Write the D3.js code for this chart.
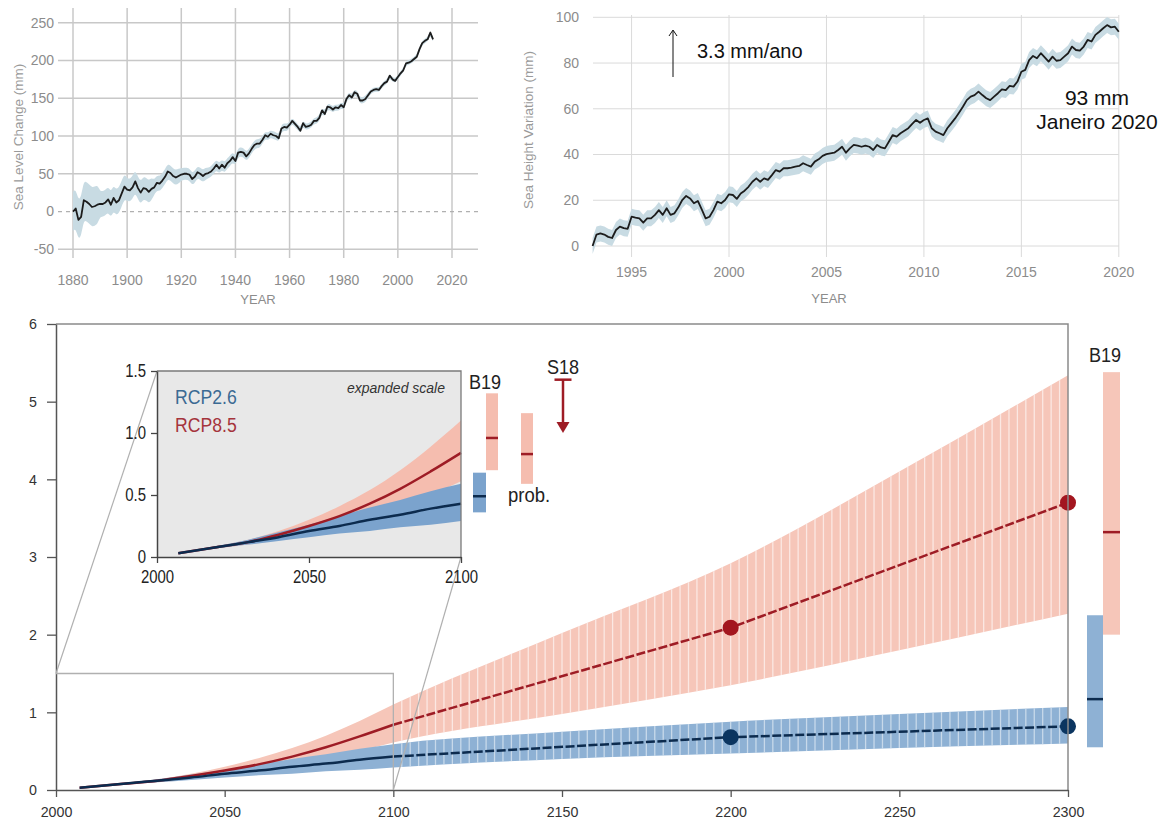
<!DOCTYPE html>
<html>
<head>
<meta charset="utf-8">
<script src="https://cdn.jsdelivr.net/npm/d3@7"></script>
<style>
  html, body { margin: 0; padding: 0; background: #fff; }
  svg { display: block; }
</style>
</head>
<body>
<svg id="chart" width="1170" height="821"></svg>
<script>
// ---------------------------------------------------------------
// Tide-gauge reconstruction of global mean sea level (mm), annual
// ---------------------------------------------------------------
const tideGaugeStartYear = 1880;
const tideGaugeLevel = [
  0, 4, -11, -7, 15, 13, 10, 6, 7, 9,
  10, 10, 12, 16, 9, 18, 12, 15, 24, 33,
  29, 28, 32, 40, 31, 25, 31, 30, 26, 30,
  32, 38, 37, 41, 46, 53, 51, 47, 45, 47,
  49, 50, 50, 49, 43, 46, 52, 50, 47, 50,
  51, 53, 57, 62, 57, 62, 58, 64, 67, 72,
  67, 78, 79, 78, 73, 77, 83, 88, 90, 90,
  95, 101, 99, 103, 101, 100, 97, 110, 112, 111,
  115, 120, 116, 112, 107, 117, 112, 113, 115, 120,
  120, 124, 134, 129, 139, 138, 135, 138, 137, 141,
  138, 149, 154, 151, 158, 156, 147, 147, 149, 154,
  159, 161, 162, 161, 166, 170, 172, 180, 175, 173,
  178, 183, 187, 196, 197, 199, 202, 205, 215, 223,
  226, 228, 237, 228
];
// half-width of the uncertainty band, one value per decade from 1880
const tideGaugeUncertainty = [26, 17, 15, 10, 8, 7, 6, 5, 4, 4, 4, 3, 3, 3];
const tideGaugeYearTicks = [1880, 1900, 1920, 1940, 1960, 1980, 2000, 2020];
const tideGaugeLevelTicks = [-50, 0, 50, 100, 150, 200, 250];

// ---------------------------------------------------------------
// Satellite altimetry (mm), sampled every 0.2 yr from 1993.0
// ---------------------------------------------------------------
const altimetryStartYear = 1993;
const altimetryStep = 0.2;
const altimetryLevel = [
  0, 5, 5.5, 5, 4,
  3.5, 7, 8.5, 7.8, 7.5,
  12.8, 12.4, 12.1, 10.2, 12.1,
  12.1, 13.6, 15.7, 13.6, 16.5,
  13.6, 14.3, 16.9, 20.1, 21.9,
  20.8, 18.7, 19.7, 16.0, 12.1,
  12.8, 15.7, 19.4, 18.7, 20.1,
  22.6, 22.3, 20.6, 23.0, 24.2,
  25.9, 28.1, 29.6, 28.1, 29.6,
  28.9, 31.0, 33.2, 32.5, 34.0,
  34.0, 34.3, 34.7, 35.0, 36.2,
  35.4, 34.7, 36.9, 37.9, 39.4,
  40.2, 40.5, 40.8, 42.0, 43.4,
  40.8, 42.7, 44.2, 43.9, 43.4,
  43.9, 43.4, 42.0, 44.2, 43.1,
  42.7, 45.6, 48.5, 47.8, 49.3,
  50.4, 51.5, 53.4, 55.1, 53.9,
  55.1, 55.8, 51.5, 50.0, 49.3,
  48.5, 51.5, 53.6, 55.8, 58.3,
  60.9, 63.8, 65.3, 66.0, 67.5,
  66.0, 64.6, 63.8, 65.3, 66.8,
  68.5, 68.2, 70.0, 69.7, 71.9,
  76.2, 77.0, 81.3, 83.1, 82.1,
  84.3, 82.5, 80.6, 82.8, 81.0,
  81.3, 82.8, 84.3, 87.2, 85.7,
  85.4, 87.2, 90.1, 89.4, 92.3,
  93.7, 95.2, 96.6, 95.6, 95.9,
  93.7
];
const altimetryUncertainty = 3.5;
const altimetryYearTicks = [1995, 2000, 2005, 2010, 2015, 2020];
const altimetryLevelTicks = [0, 20, 40, 60, 80, 100];

// ---------------------------------------------------------------
// Projections of global mean sea level rise (m)
// ---------------------------------------------------------------
const bandYears  = [2007, 2020, 2030, 2040, 2050, 2060, 2070, 2080, 2090, 2100, 2150, 2200, 2250, 2300];
const rcp26Low   = [0.03, 0.07, 0.10, 0.13, 0.16, 0.19, 0.21, 0.24, 0.26, 0.29, 0.40, 0.47, 0.54, 0.60];
const rcp26High  = [0.03, 0.09, 0.14, 0.20, 0.26, 0.33, 0.40, 0.46, 0.53, 0.59, 0.75, 0.88, 0.98, 1.07];
const rcp85Low   = [0.03, 0.07, 0.10, 0.14, 0.19, 0.25, 0.32, 0.40, 0.50, 0.61, 0.98, 1.35, 1.80, 2.27];
const rcp85High  = [0.03, 0.09, 0.14, 0.21, 0.30, 0.41, 0.54, 0.70, 0.89, 1.10, 2.02, 2.92, 4.10, 5.34];
const medianYears  = [2007, 2020, 2030, 2040, 2050, 2060, 2070, 2080, 2090, 2100, 2200, 2300];
const rcp26Median  = [0.03, 0.08, 0.12, 0.16, 0.21, 0.25, 0.30, 0.34, 0.39, 0.43, 0.68, 0.82];
const rcp85Median  = [0.03, 0.08, 0.12, 0.18, 0.25, 0.33, 0.43, 0.55, 0.69, 0.84, 2.09, 3.70];

// B19 (structured expert judgement) ranges: [low, median, high]
const b19At2100Rcp26 = [0.36, 0.49, 0.68];
const b19At2100Rcp85 = [0.70, 0.96, 1.32];
const probAt2100Rcp85 = [0.59, 0.83, 1.16];
const s18At2100 = [1.00, 1.43];
const b19At2300Rcp26 = [0.55, 1.17, 2.25];
const b19At2300Rcp85 = [2.00, 3.32, 5.38];

const projYearTicks = [2000, 2050, 2100, 2150, 2200, 2250, 2300];
const projLevelTicks = [0, 1, 2, 3, 4, 5, 6];
const insetYearTicks = [2000, 2050, 2100];
const insetLevelTicks = [0, 0.5, 1.0, 1.5];
const insetLevelLabels = ['0', '0.5', '1.0', '1.5'];

// ---------------------------------------------------------------
const SANS = '"Liberation Sans", Arial, Helvetica, sans-serif';

const COL = {
  red: '#9e1c25', redDot: '#a3161f', redBand: '#f6c6b9', redBandInset: '#f5bdaf',
  blue: '#0c2b4e', blueDot: '#0b3560', blueBand: '#8eb1d4', blueBandInset: '#7ba3cd',
  obsBand: '#c8dbe3', obsLine: '#1c1c1c'
};

// squeeze text horizontally (narrow lettering) while keeping its anchor point
function condense(sel, k) {
  sel.each(function () {
    const t = d3.select(this);
    const x = +t.attr('x') || 0;
    t.attr('x', x / k).attr('transform', `scale(${k},1)`);
  });
}

const svg = d3.select('#chart');

// ================= Tide-gauge panel =================
(function () {
  const g = svg.append('g');
  const x = d3.scaleLinear().domain([1880, 2020]).range([73, 452]);
  const y = d3.scaleLinear().domain([-50, 250]).range([249.3, 22.7]);
  const rows = tideGaugeLevel.map((v, i) => ({
    year: tideGaugeStartYear + i, v,
    u: tideGaugeUncertainty[Math.floor(i / 10)]
  }));

  g.selectAll('line.vgrid').data(tideGaugeYearTicks).join('line')
    .attr('class', 'vgrid')
    .attr('x1', d => x(d)).attr('x2', d => x(d))
    .attr('y1', 8).attr('y2', 258)
    .attr('stroke', '#c8c8c8').attr('stroke-width', 1.5);
  g.selectAll('line.hgrid').data(tideGaugeLevelTicks.filter(d => d !== 0)).join('line')
    .attr('class', 'hgrid')
    .attr('x1', 58).attr('x2', 478)
    .attr('y1', d => y(d)).attr('y2', d => y(d))
    .attr('stroke', '#c8c8c8').attr('stroke-width', 1.5);
  g.append('line')
    .attr('x1', 58).attr('x2', 478).attr('y1', y(0)).attr('y2', y(0))
    .attr('stroke', '#b0b0b0').attr('stroke-width', 1.2).attr('stroke-dasharray', '4,4');

  g.append('path').datum(rows)
    .attr('fill', COL.obsBand)
    .attr('d', d3.area().x(d => x(d.year)).y0(d => y(d.v - d.u)).y1(d => y(d.v + d.u))
      .curve(d3.curveBasis));
  g.append('path').datum(rows)
    .attr('fill', 'none').attr('stroke', COL.obsLine).attr('stroke-width', 1.8)
    .attr('stroke-linejoin', 'round')
    .attr('d', d3.line().x(d => x(d.year)).y(d => y(d.v)));

  g.selectAll('text.ylab').data(tideGaugeLevelTicks).join('text')
    .attr('class', 'ylab')
    .attr('x', 54).attr('y', d => y(d)).attr('dy', '0.35em')
    .attr('text-anchor', 'end').attr('font-family', SANS).attr('font-size', 14)
    .attr('fill', '#8c8c8c').text(d => d);
  g.selectAll('text.xlab').data(tideGaugeYearTicks).join('text')
    .attr('class', 'xlab')
    .attr('x', d => x(d)).attr('y', 285)
    .attr('text-anchor', 'middle').attr('font-family', SANS).attr('font-size', 14)
    .attr('fill', '#8c8c8c').text(d => d);
  g.append('text').attr('x', 258).attr('y', 304).attr('text-anchor', 'middle')
    .attr('font-family', SANS).attr('font-size', 13).attr('fill', '#8c8c8c').text('YEAR');
  g.append('text').attr('transform', 'translate(23,137) rotate(-90)')
    .attr('text-anchor', 'middle').attr('font-family', SANS).attr('font-size', 13.5)
    .attr('fill', '#9a9a9a').text('Sea Level Change (mm)');
})();

// ================= Altimetry panel =================
(function () {
  const g = svg.append('g');
  const x = d3.scaleLinear().domain([1993, 2020]).range([592.6, 1118.8]);
  const y = d3.scaleLinear().domain([0, 100]).range([246, 17.3]);
  const rows = altimetryLevel.map((v, i) => ({ year: altimetryStartYear + i * altimetryStep, v }));

  g.selectAll('line.vgrid').data(altimetryYearTicks).join('line')
    .attr('class', 'vgrid')
    .attr('x1', d => x(d)).attr('x2', d => x(d))
    .attr('y1', 15).attr('y2', 257)
    .attr('stroke', '#dadada').attr('stroke-width', 1);
  g.selectAll('line.hgrid').data(altimetryLevelTicks).join('line')
    .attr('class', 'hgrid')
    .attr('x1', 593).attr('x2', x(2020))
    .attr('y1', d => y(d)).attr('y2', d => y(d))
    .attr('stroke', '#dadada').attr('stroke-width', 1);

  g.append('path').datum(rows)
    .attr('fill', COL.obsBand)
    .attr('d', d3.area().x(d => x(d.year))
      .y0(d => y(d.v - altimetryUncertainty)).y1(d => y(d.v + altimetryUncertainty)));
  g.append('path').datum(rows)
    .attr('fill', 'none').attr('stroke', COL.obsLine).attr('stroke-width', 1.8)
    .attr('stroke-linejoin', 'round')
    .attr('d', d3.line().x(d => x(d.year)).y(d => y(d.v)));

  g.selectAll('text.ylab').data(altimetryLevelTicks).join('text')
    .attr('class', 'ylab')
    .attr('x', 579).attr('y', d => y(d)).attr('dy', '0.35em')
    .attr('text-anchor', 'end').attr('font-family', SANS).attr('font-size', 14)
    .attr('fill', '#8c8c8c').text(d => d);
  g.selectAll('text.xlab').data(altimetryYearTicks).join('text')
    .attr('class', 'xlab')
    .attr('x', d => x(d)).attr('y', 277)
    .attr('text-anchor', 'middle').attr('font-family', SANS).attr('font-size', 14)
    .attr('fill', '#8c8c8c').text(d => d);
  g.append('text').attr('x', 829).attr('y', 303).attr('text-anchor', 'middle')
    .attr('font-family', SANS).attr('font-size', 13).attr('fill', '#8c8c8c').text('YEAR');
  g.append('text').attr('transform', 'translate(533,130) rotate(-90)')
    .attr('text-anchor', 'middle').attr('font-family', SANS).attr('font-size', 13.5)
    .attr('fill', '#9a9a9a').text('Sea Height Variation (mm)');

  // rate annotation
  g.append('line').attr('x1', 673).attr('x2', 673).attr('y1', 77).attr('y2', 31)
    .attr('stroke', '#111').attr('stroke-width', 1);
  g.append('path').attr('d', 'M669,36 L673,30 L677,36')
    .attr('fill', 'none').attr('stroke', '#111').attr('stroke-width', 1);
  g.append('text').attr('x', 697).attr('y', 58).attr('font-family', SANS)
    .attr('font-size', 20).attr('fill', '#111').text('3.3 mm/ano');
  g.append('text').attr('x', 1097).attr('y', 105).attr('text-anchor', 'middle')
    .attr('font-family', SANS).attr('font-size', 21).attr('fill', '#111').text('93 mm');
  g.append('text').attr('x', 1097).attr('y', 129).attr('text-anchor', 'middle')
    .attr('font-family', SANS).attr('font-size', 21).attr('fill', '#111').text('Janeiro 2020');
})();

// ================= Projection panel =================
(function () {
  const g = svg.append('g');
  const x = d3.scaleLinear().domain([2000, 2300]).range([56, 1068]);
  const y = d3.scaleLinear().domain([0, 6]).range([790, 324]);

  const bands = bandYears.map((yr, i) => ({
    yr, lo26: rcp26Low[i], hi26: rcp26High[i], lo85: rcp85Low[i], hi85: rcp85High[i]
  }));
  const medians = medianYears.map((yr, i) => ({ yr, m26: rcp26Median[i], m85: rcp85Median[i] }));

  const area85 = d3.area().x(d => x(d.yr)).y0(d => y(d.lo85)).y1(d => y(d.hi85)).curve(d3.curveMonotoneX);
  const area26 = d3.area().x(d => x(d.yr)).y0(d => y(d.lo26)).y1(d => y(d.hi26)).curve(d3.curveMonotoneX);

  const defs = svg.append('defs');
  defs.append('clipPath').attr('id', 'clip-rcp85').append('path').datum(bands).attr('d', area85);
  defs.append('clipPath').attr('id', 'clip-rcp26').append('path').datum(bands).attr('d', area26);

  g.append('path').datum(bands).attr('fill', COL.redBand).attr('d', area85);
  g.append('path').datum(bands).attr('fill', COL.blueBand).attr('d', area26);

  // vertical hatching on the post-2100 extension of each band
  const stripeYears = d3.range(2102.5, 2300, 2.5);
  [['clip-rcp85', '#fff', 0.6], ['clip-rcp26', '#dbe7f2', 0.75]].forEach(([id, c, o]) => {
    g.append('g').attr('clip-path', `url(#${id})`)
      .selectAll('line').data(stripeYears).join('line')
      .attr('x1', d => x(d)).attr('x2', d => x(d))
      .attr('y1', y(6)).attr('y2', y(0))
      .attr('stroke', c).attr('stroke-opacity', o).attr('stroke-width', 1.3);
  });

  const solid = medians.filter(d => d.yr <= 2100);
  const dashed = medians.filter(d => d.yr >= 2100);
  const lineSolid = key => d3.line().x(d => x(d.yr)).y(d => y(d[key])).curve(d3.curveMonotoneX);
  const lineDash = key => d3.line().x(d => x(d.yr)).y(d => y(d[key]));

  g.append('path').datum(solid).attr('fill', 'none').attr('stroke', COL.red)
    .attr('stroke-width', 2.5).attr('d', lineSolid('m85'));
  g.append('path').datum(dashed).attr('fill', 'none').attr('stroke', COL.red)
    .attr('stroke-width', 2.5).attr('stroke-dasharray', '9,2.5').attr('d', lineDash('m85'));
  g.append('path').datum(solid).attr('fill', 'none').attr('stroke', COL.blue)
    .attr('stroke-width', 2.5).attr('d', lineSolid('m26'));
  g.append('path').datum(dashed).attr('fill', 'none').attr('stroke', COL.blue)
    .attr('stroke-width', 2.5).attr('stroke-dasharray', '9,2.5').attr('d', lineDash('m26'));

  const dots = medians.filter(d => d.yr > 2100);
  g.selectAll('circle.d85').data(dots).join('circle').attr('class', 'd85')
    .attr('cx', d => x(d.yr)).attr('cy', d => y(d.m85)).attr('r', 8).attr('fill', COL.redDot);
  g.selectAll('circle.d26').data(dots).join('circle').attr('class', 'd26')
    .attr('cx', d => x(d.yr)).attr('cy', d => y(d.m26)).attr('r', 8).attr('fill', COL.blueDot);

  // frame: top and right edges
  g.append('path')
    .attr('d', `M${x(2000)},${y(6)} H${x(2300)} V${y(0)}`)
    .attr('fill', 'none').attr('stroke', '#8a8a8a').attr('stroke-width', 1.5);

  // axes
  const xAxis = g.append('g').attr('transform', `translate(0,${y(0)})`)
    .call(d3.axisBottom(x).tickValues(projYearTicks).tickFormat(d3.format('d'))
      .tickSize(7).tickSizeOuter(0));
  const yAxis = g.append('g').attr('transform', `translate(${x(2000)},0)`)
    .call(d3.axisLeft(y).tickValues(projLevelTicks).tickFormat(d3.format('d'))
      .tickSize(9).tickSizeOuter(0).tickPadding(10));
  [xAxis, yAxis].forEach(ax => {
    ax.selectAll('path.domain').attr('stroke', '#555').attr('stroke-width', 1.5);
    ax.selectAll('.tick line').attr('stroke', '#555').attr('stroke-width', 1.3);
    ax.selectAll('.tick text').attr('font-family', SANS).attr('font-size', 15.5)
      .attr('fill', '#333');
  });
  xAxis.selectAll('.tick text').attr('dy', '1.1em');
  condense(xAxis.selectAll('.tick text'), 0.92);
  condense(yAxis.selectAll('.tick text'), 0.92);

  // zoom box around the inset's range
  g.append('path')
    .attr('d', `M${x(2000)},${y(1.5)} H${x(2100)} V${y(0)}`)
    .attr('fill', 'none').attr('stroke', '#b0b0b0').attr('stroke-width', 1.3);

  // B19 ranges at 2300
  const sideAt2300 = [
    { r: b19At2300Rcp26, x0: x(2300) + 19, x1: x(2300) + 35, fill: COL.blueBand, mid: COL.blue },
    { r: b19At2300Rcp85, x0: x(2300) + 35, x1: x(2300) + 52, fill: COL.redBand, mid: COL.red }
  ];
  sideAt2300.forEach(s => {
    g.append('rect').attr('x', s.x0).attr('width', s.x1 - s.x0)
      .attr('y', y(s.r[2])).attr('height', y(s.r[0]) - y(s.r[2])).attr('fill', s.fill);
    g.append('line').attr('x1', s.x0).attr('x2', s.x1)
      .attr('y1', y(s.r[1])).attr('y2', y(s.r[1]))
      .attr('stroke', s.mid).attr('stroke-width', 2.5);
  });
  const b19Main = g.append('text').attr('x', x(2300) + 37).attr('y', 362).attr('text-anchor', 'middle')
    .attr('font-family', SANS).attr('font-size', 21).attr('fill', '#222').text('B19');
  condense(b19Main, 0.86);

  // ---------------- inset (expanded scale) ----------------
  const xi = d3.scaleLinear().domain([2000, 2100]).range([157, 461]);
  const yi = d3.scaleLinear().domain([0, 1.5]).range([557, 371]);

  // connector lines from the zoom box to the inset
  g.append('line').attr('x1', x(2000)).attr('y1', y(1.5)).attr('x2', xi(2000)).attr('y2', yi(1.5))
    .attr('stroke', '#b0b0b0').attr('stroke-width', 1.2);
  g.append('line').attr('x1', x(2100)).attr('y1', y(0)).attr('x2', xi(2100)).attr('y2', yi(0))
    .attr('stroke', '#b0b0b0').attr('stroke-width', 1.2);

  const gi = g.append('g');
  gi.append('rect').attr('x', xi(2000)).attr('y', yi(1.5))
    .attr('width', xi(2100) - xi(2000)).attr('height', yi(0) - yi(1.5)).attr('fill', '#e8e8e8');

  const early = bands.filter(d => d.yr <= 2100);
  gi.append('path').datum(early).attr('fill', COL.redBandInset)
    .attr('d', d3.area().x(d => xi(d.yr)).y0(d => yi(d.lo85)).y1(d => yi(d.hi85)).curve(d3.curveMonotoneX));
  gi.append('path').datum(early).attr('fill', COL.blueBandInset)
    .attr('d', d3.area().x(d => xi(d.yr)).y0(d => yi(d.lo26)).y1(d => yi(d.hi26)).curve(d3.curveMonotoneX));
  gi.append('path').datum(solid).attr('fill', 'none').attr('stroke', COL.red).attr('stroke-width', 2.5)
    .attr('d', d3.line().x(d => xi(d.yr)).y(d => yi(d.m85)).curve(d3.curveMonotoneX));
  gi.append('path').datum(solid).attr('fill', 'none').attr('stroke', COL.blue).attr('stroke-width', 2.5)
    .attr('d', d3.line().x(d => xi(d.yr)).y(d => yi(d.m26)).curve(d3.curveMonotoneX));

  gi.append('path').attr('d', `M${xi(2000)},${yi(1.5)} H${xi(2100)} V${yi(0)}`)
    .attr('fill', 'none').attr('stroke', '#7a7a7a').attr('stroke-width', 1.3);
  const xiAxis = gi.append('g').attr('transform', `translate(0,${yi(0)})`)
    .call(d3.axisBottom(xi).tickValues(insetYearTicks).tickFormat(d3.format('d'))
      .tickSize(6).tickSizeOuter(0));
  const yiAxis = gi.append('g').attr('transform', `translate(${xi(2000)},0)`)
    .call(d3.axisLeft(yi).tickValues(insetLevelTicks).tickFormat((d, i) => insetLevelLabels[i])
      .tickSize(6).tickSizeOuter(0).tickPadding(5));
  [xiAxis, yiAxis].forEach(ax => {
    ax.selectAll('path.domain').attr('stroke', '#444').attr('stroke-width', 1.5);
    ax.selectAll('.tick line').attr('stroke', '#444').attr('stroke-width', 1.3);
    ax.selectAll('.tick text').attr('font-family', SANS).attr('font-size', 18)
      .attr('fill', '#222');
    condense(ax.selectAll('.tick text'), 0.83);
  });
  xiAxis.selectAll('.tick text').attr('dy', '0.95em');

  const rcp26Label = gi.append('text').attr('x', 175).attr('y', 404).attr('font-family', SANS)
    .attr('font-size', 21).attr('fill', '#3b6a93').text('RCP2.6');
  const rcp85Label = gi.append('text').attr('x', 175).attr('y', 432).attr('font-family', SANS)
    .attr('font-size', 21).attr('fill', '#a5343c').text('RCP8.5');
  condense(rcp26Label, 0.84);
  condense(rcp85Label, 0.84);
  gi.append('text').attr('x', 445).attr('y', 393).attr('text-anchor', 'end')
    .attr('font-family', SANS).attr('font-style', 'italic').attr('font-size', 14)
    .attr('fill', '#333').text('expanded scale');

  // ranges at 2100 beside the inset
  const r = xi(2100);
  const sideAt2100 = [
    { v: b19At2100Rcp26, x0: r + 12, x1: r + 25, fill: COL.blueBandInset, mid: COL.blue },
    { v: b19At2100Rcp85, x0: r + 25, x1: r + 37, fill: COL.redBandInset, mid: COL.red },
    { v: probAt2100Rcp85, x0: r + 60, x1: r + 72, fill: COL.redBandInset, mid: COL.red }
  ];
  sideAt2100.forEach(s => {
    gi.append('rect').attr('x', s.x0).attr('width', s.x1 - s.x0)
      .attr('y', yi(s.v[2])).attr('height', yi(s.v[0]) - yi(s.v[2])).attr('fill', s.fill);
    gi.append('line').attr('x1', s.x0).attr('x2', s.x1)
      .attr('y1', yi(s.v[1])).attr('y2', yi(s.v[1]))
      .attr('stroke', s.mid).attr('stroke-width', 2.5);
  });
  const b19Inset = gi.append('text').attr('x', r + 24).attr('y', 389).attr('text-anchor', 'middle')
    .attr('font-family', SANS).attr('font-size', 21).attr('fill', '#222').text('B19');
  const probLabel = gi.append('text').attr('x', r + 47).attr('y', 502)
    .attr('font-family', SANS).attr('font-size', 21).attr('fill', '#222').text('prob.');
  condense(b19Inset, 0.86);
  condense(probLabel, 0.88);

  // S18 upper-end marker
  const sx = r + 102;
  gi.append('line').attr('x1', sx - 8.5).attr('x2', sx + 8.5)
    .attr('y1', yi(s18At2100[1])).attr('y2', yi(s18At2100[1]))
    .attr('stroke', COL.red).attr('stroke-width', 2.5);
  gi.append('line').attr('x1', sx).attr('x2', sx)
    .attr('y1', yi(s18At2100[1])).attr('y2', yi(s18At2100[0]) - 8)
    .attr('stroke', COL.red).attr('stroke-width', 2.5);
  gi.append('path')
    .attr('d', `M${sx - 6.5},${yi(s18At2100[0]) - 11} L${sx + 6.5},${yi(s18At2100[0]) - 11} L${sx},${yi(s18At2100[0])} Z`)
    .attr('fill', COL.red);
  const s18Label = gi.append('text').attr('x', sx).attr('y', 374).attr('text-anchor', 'middle')
    .attr('font-family', SANS).attr('font-size', 21).attr('fill', '#222').text('S18');
  condense(s18Label, 0.86);
})();
</script>
</body>
</html>
